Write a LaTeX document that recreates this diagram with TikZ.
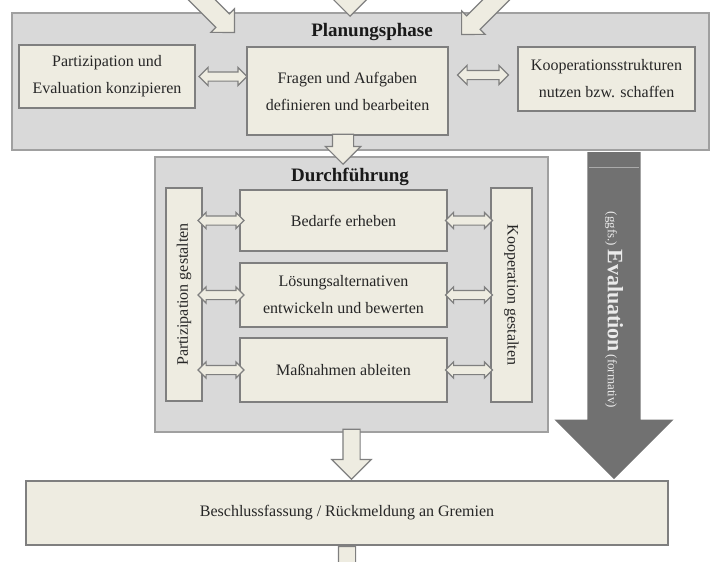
\documentclass[tikz,border=0pt]{standalone}
\usepackage{fontspec}
\setmainfont{Liberation Serif}
\usetikzlibrary{shapes.arrows,calc}

\definecolor{beige}{HTML}{EEECE1}
\definecolor{hellgrau}{HTML}{D9D9D9}
\definecolor{rahmen}{HTML}{7F7F7F}
\definecolor{phasenrand}{HTML}{A0A0A0}
\definecolor{evagrau}{HTML}{717171}

\tikzset{
  phase/.style={draw=phasenrand, fill=hellgrau, line width=2pt, inner sep=0pt},
  kasten/.style={draw=rahmen, fill=beige, line width=2pt, inner sep=0pt,
    align=center, text=black!85, font=\fontsize{16}{27}\selectfont},
  titel/.style={font=\fontsize{19}{22}\selectfont\bfseries, text=black!90},
  pfeil/.style 2 args={single arrow, draw=rahmen, fill=beige, line width=1.2pt,
    inner xsep=0pt, inner ysep=#1, single arrow head extend=#2,
    sloped, allow upside down},
  doppelpfeil/.style 2 args={double arrow, draw=rahmen, fill=beige, line width=1.2pt,
    inner xsep=0pt, inner ysep=#1, double arrow head extend=#2,
    sloped, allow upside down, anchor=center},
}

\begin{document}
\begin{tikzpicture}[x=1pt,y=-1pt]
  \useasboundingbox (0,0) rectangle (710,562);
  \clip (0,0) rectangle (710,562);

  % Planungsphase
  \node[phase, minimum width=697pt, minimum height=137pt] (plan) at (360.5,81.5) {};
  \node[titel] (plantitel) at (372,32) {Planungsphase};
  \node[kasten, minimum width=176pt, minimum height=63pt] (pk) at (107,76.5)
    {Partizipation und\\Evaluation konzipieren};
  \node[kasten, minimum width=201pt, minimum height=88pt] (fr) at (347.5,91)
    {Fragen und Aufgaben\\definieren und bearbeiten};
  \node[kasten, minimum width=177pt, minimum height=64pt] (ks) at (606.5,79)
    {Kooperationsstrukturen\\nutzen bzw. schaffen};

  % Durchfuehrung
  \node[phase, minimum width=393pt, minimum height=275pt] (durch) at (351.5,294.5) {};
  \node[titel] (durchtitel) at (350,177) {Durchführung};
  \node[kasten, rotate=90, minimum width=213pt, minimum height=36pt] (pg) at (184,294.5)
    {Partizipation gestalten};
  \node[kasten, rotate=-90, minimum width=214pt, minimum height=41pt] (kg) at (511.5,295)
    {Kooperation gestalten};
  \node[kasten, minimum width=207pt, minimum height=61pt] (bed) at (343.5,220.5)
    {Bedarfe erheben};
  \node[kasten, minimum width=207pt, minimum height=64pt] (loe) at (343.5,295)
    {Lösungsalternativen\\entwickeln und bewerten};
  \node[kasten, minimum width=207pt, minimum height=64pt] (mas) at (343.5,370)
    {Maßnahmen ableiten};

  % Beschluss
  \node[kasten, minimum width=642pt, minimum height=64pt] (bs) at (347,513)
    {Beschlussfassung / Rückmeldung an Gremien};

  % Pfeile von oben
  \coordinate (lstart) at (180,-22);
  \coordinate (lspitze) at (235,33);
  \coordinate (mstart) at (350,-40);
  \coordinate (mspitze) at (350,17);
  \coordinate (rstart) at (516,-20);
  \coordinate (rspitze) at (461,35);
  \path (lstart) -- (lspitze) node[pos=1, anchor=tip, pfeil={9pt}{7pt}, minimum height=80pt] (lp) {};
  \path (mstart) -- (mspitze) node[pos=1, anchor=tip, pfeil={9pt}{8pt}, minimum height=60pt] (mp) {};
  \path (rstart) -- (rspitze) node[pos=1, anchor=tip, pfeil={9pt}{7pt}, minimum height=80pt] (rp) {};

  % Doppelpfeile Planung
  \path (pk.east) -- (pk.east -| fr.west) node[midway, xshift=2pt, doppelpfeil={4pt}{4.5pt}, minimum height=48pt] (dp1) {};
  \path (fr.east |- ks.west) -- (ks.west) node[midway, yshift=4pt, doppelpfeil={4pt}{5pt}, minimum height=51pt] (dp2) {};

  % Doppelpfeile Durchfuehrung
  \foreach \b in {bed,loe,mas}{
    \path (pg.south |- \b.west) -- (\b.west) node[midway, doppelpfeil={4pt}{3.5pt}, minimum height=46pt] {};
    \path (\b.east) -- (kg.south |- \b.east) node[midway, doppelpfeil={4pt}{3.5pt}, minimum height=47pt] {};
  }

  % Pfeile nach unten
  \coordinate (d1) at (343,165);
  \path (fr.south -| d1) -- (d1) node[pos=1, anchor=tip, pfeil={10pt}{7pt}, minimum height=30pt] (ab1) {};
  \path (durch.south) -- (durch.south |- bs.north) node[pos=1, anchor=tip, pfeil={8pt}{11pt}, minimum height=50pt] (ab2) {};
  \coordinate (weiter) at ($(bs.south)+(0,60)$);
  \path (bs.south) -- (weiter) node[pos=0, anchor=tail, pfeil={8pt}{11pt}, minimum height=60pt] (ab3) {};

  % Evaluation
  \coordinate (ea) at (614,152);
  \coordinate (eb) at (bs.north -| ea);
  \path (ea) -- (eb) node[pos=1, anchor=tip, pfeil={26pt}{33pt}, fill=evagrau, draw=none, minimum height=327pt] (eva) {};
  \draw[evagrau!60!white, line width=0.6pt] (589,167) -- (639,167);
  \node[rotate=-90, text=white!92!black] (evatext) at (614,310)
    {{\fontsize{13}{15}\selectfont(ggfs.)} {\fontsize{22}{26}\selectfont\bfseries Evaluation} {\fontsize{13}{15}\selectfont(formativ)}};
\end{tikzpicture}
\end{document}
